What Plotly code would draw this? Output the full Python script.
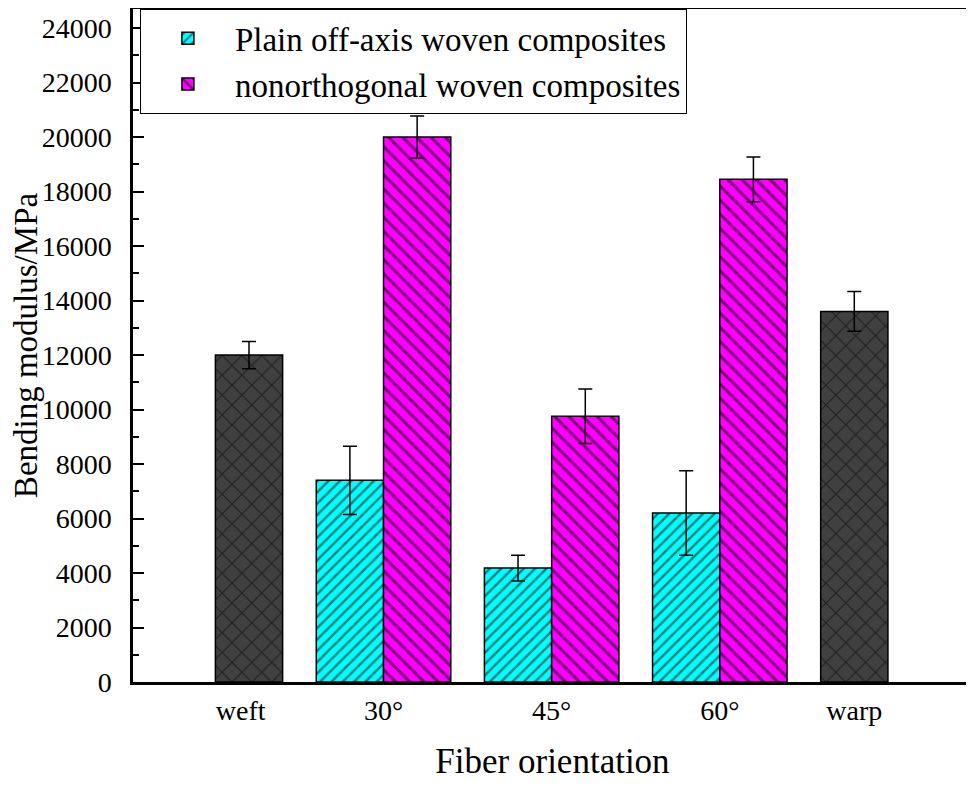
import plotly.graph_objects as go

# Data
GROUP_POS = [1, 2, 3]                      # 30°, 45°, 60°
PLAIN_MOD = [7400, 4180, 6200]
PLAIN_ERR = [1250, 470, 1550]
NONORTH_MOD = [20000, 9750, 18450]
NONORTH_ERR = [770, 1000, 820]

REF_POS = [0, 4]                           # weft, warp
REF_MOD = [12000, 13600]
REF_ERR = [500, 730]

TICK_POS = [0.15, 1, 2, 3, 3.8]
TICK_TEXT = ["weft", "30°", "45°", "60°", "warp"]

FONT = "Liberation Serif, Times New Roman, serif"
BAR_W = 0.4


def err(vals):
    return dict(type="data", array=vals, visible=True, color="black",
                thickness=1.5, width=7)


fig = go.Figure()

fig.add_trace(go.Bar(
    x=GROUP_POS, y=PLAIN_MOD, width=BAR_W, offset=-BAR_W,
    name="Plain off-axis woven composites",
    marker=dict(color="#00FFFF", line=dict(color="black", width=1.5),
                pattern=dict(shape="/", fgcolor="black", bgcolor="#00FFFF",
                             size=8, solidity=0.3)),
    error_y=err(PLAIN_ERR),
))

fig.add_trace(go.Bar(
    x=GROUP_POS, y=NONORTH_MOD, width=BAR_W, offset=0,
    name="nonorthogonal woven composites",
    marker=dict(color="#FF00FF", line=dict(color="black", width=1.5),
                pattern=dict(shape="\\", fgcolor="black", bgcolor="#FF00FF",
                             size=10, solidity=0.3)),
    error_y=err(NONORTH_ERR),
))

# weft / warp reference bars
fig.add_trace(go.Bar(
    x=REF_POS, y=REF_MOD, width=BAR_W, offset=[0, -BAR_W],
    showlegend=False,
    marker=dict(color="#404040", line=dict(color="black", width=1.5),
                pattern=dict(shape="x", fgcolor="black", bgcolor="#404040",
                             size=14, solidity=0.15)),
    error_y=err(REF_ERR),
))

# page body has an 8px margin, so the figure is sized to fit the window
fig.update_layout(
    width=966, height=777,
    barmode="overlay",
    plot_bgcolor="white", paper_bgcolor="white",
    font=dict(family=FONT, color="black", size=28),
    margin=dict(l=125, r=2, t=1, b=103, autoexpand=False),
    legend=dict(
        x=0.008, y=1.0, xanchor="left", yanchor="top",
        bgcolor="white", bordercolor="black", borderwidth=1.2,
        font=dict(size=33, family=FONT), tracegroupgap=0,
        itemwidth=84,
    ),
)

fig.update_xaxes(
    range=[-0.49, 4.5],
    tickvals=TICK_POS, ticktext=TICK_TEXT,
    ticks="", showgrid=False, zeroline=False, automargin=False,
    showline=True, linecolor="black", linewidth=2.5, mirror=True,
    tickfont=dict(size=28), ticklabelstandoff=2,
    title=dict(text="Fiber orientation", font=dict(size=35), standoff=24),
)

fig.update_yaxes(
    range=[0, 24700],
    tickvals=list(range(0, 24001, 2000)), tickformat="d",
    ticks="inside", ticklen=11, tickwidth=2, tickcolor="black",
    minor=dict(tickvals=list(range(1000, 24001, 2000)), ticks="inside",
               ticklen=6, tickwidth=2, tickcolor="black"),
    showgrid=False, zeroline=False, automargin=False,
    showline=True, linecolor="black", linewidth=2.5, mirror=True,
    tickfont=dict(size=28), ticklabelstandoff=13,
    title=dict(text="Bending modulus/MPa", font=dict(size=33), standoff=26),
)

fig.write_html("out.html")
